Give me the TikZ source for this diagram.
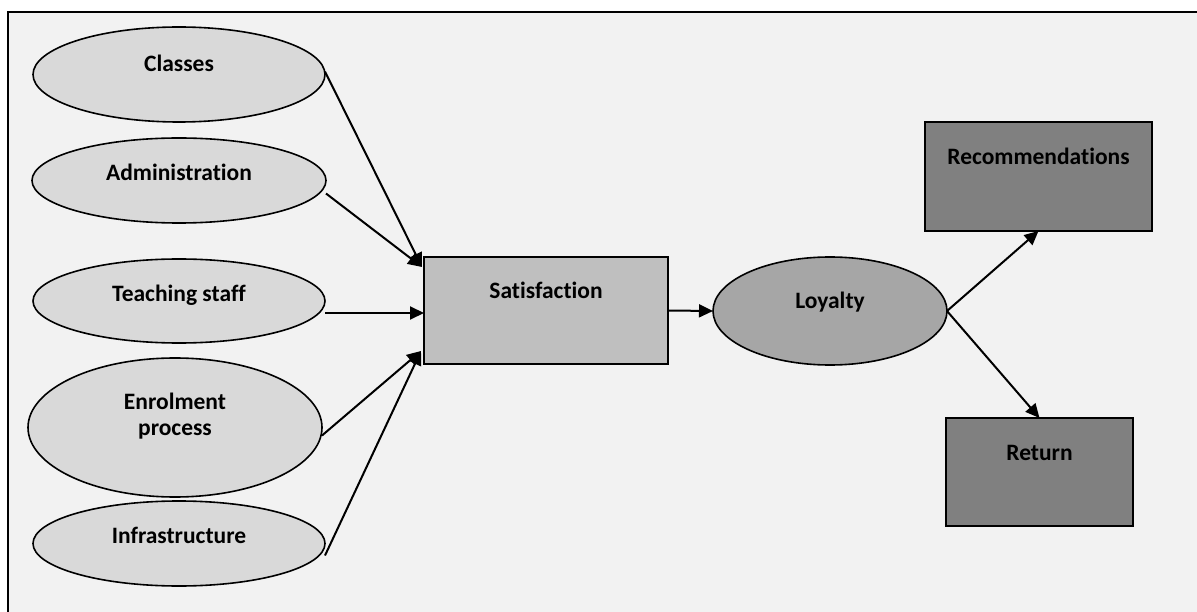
\documentclass[tikz,border=0pt]{standalone}
\usepackage{fontspec}
\setmainfont{Carlito}[Ligatures=NoCommon]
\usepackage{tikz}
\usetikzlibrary{shapes.geometric,arrows.meta}
\definecolor{canvas}{HTML}{F2F2F2}
\definecolor{factor}{HTML}{D9D9D9}
\definecolor{satisfaction}{HTML}{BFBFBF}
\definecolor{loyalty}{HTML}{A6A6A6}
\definecolor{outcome}{HTML}{808080}
\tikzset{
  every node/.style={font=\bfseries\fontsize{23.5}{26}\selectfont, inner sep=0pt, outer sep=0pt},
  arr/.style={line width=2pt, -{Triangle[length=14pt,width=13pt]}}
}
\begin{document}
\begin{tikzpicture}[
  x=1pt, y=-1pt,
  factor ellipse/.style={ellipse, draw, line width=1.6pt, fill=factor, text height=16pt, text depth=16pt},
  result box/.style={rectangle, draw, line width=1.6pt, text height=16pt, text depth=40pt}
]
\useasboundingbox (0,0) rectangle (1197,612);
\fill[canvas] (8,12) rectangle (1210,620);
\draw[line width=2.5pt] (1210,12) -- (8,12) -- (8,620);
\node[factor ellipse, minimum width=292pt, minimum height=95pt, text depth=22pt] (classes) at (179,74.5) {Classes};
\node[factor ellipse, minimum width=294pt, minimum height=85pt] (admin) at (179,180.5) {Administration};
\node[factor ellipse, minimum width=292pt, minimum height=84pt, text depth=14pt] (teach) at (179,301) {Teaching staff};
\node[factor ellipse, minimum width=294pt, minimum height=139pt, text height=44pt, text depth=28pt] (enrol) at (175,427.5) {\begin{tabular}[b]{@{}c@{}}Enrolment\\process\end{tabular}};
\node[factor ellipse, minimum width=292pt, minimum height=85pt] (infra) at (179,543.5) {Infrastructure};
\node[result box, fill=satisfaction, minimum width=244pt, minimum height=107pt] (sat) at (546,310.5) {Satisfaction};
\node[factor ellipse, fill=loyalty, minimum width=234pt, minimum height=108pt, text depth=20pt] (loyal) at (830,311) {Loyalty};
\node[result box, fill=outcome, minimum width=227pt, minimum height=109pt] (rec) at (1038.5,176.5) {Recommendations};
\node[result box, fill=outcome, minimum width=187pt, minimum height=108pt] (ret) at (1039.5,472) {Return};
\coordinate (satnw) at ([xshift=-2pt,yshift=-10pt]sat.north west);
\coordinate (satsw) at ([xshift=-3pt,yshift=13pt]sat.south west);
\foreach \src/\sh/\tgt in {classes/3pt/satnw, admin/-13pt/satnw, enrol/-8pt/satsw, infra/-12pt/satsw}
  \draw[arr] ([yshift=\sh]\src.east) -- (\tgt);
\draw[arr] ([yshift=-12pt]teach.east) -- ([yshift=-12pt]teach.east -| sat.west);
\draw[arr] (sat.east) -- (loyal.west);
\draw[arr] (loyal.east) -- (rec.south);
\draw[arr] (loyal.east) -- (ret.north);
\end{tikzpicture}
\end{document}
